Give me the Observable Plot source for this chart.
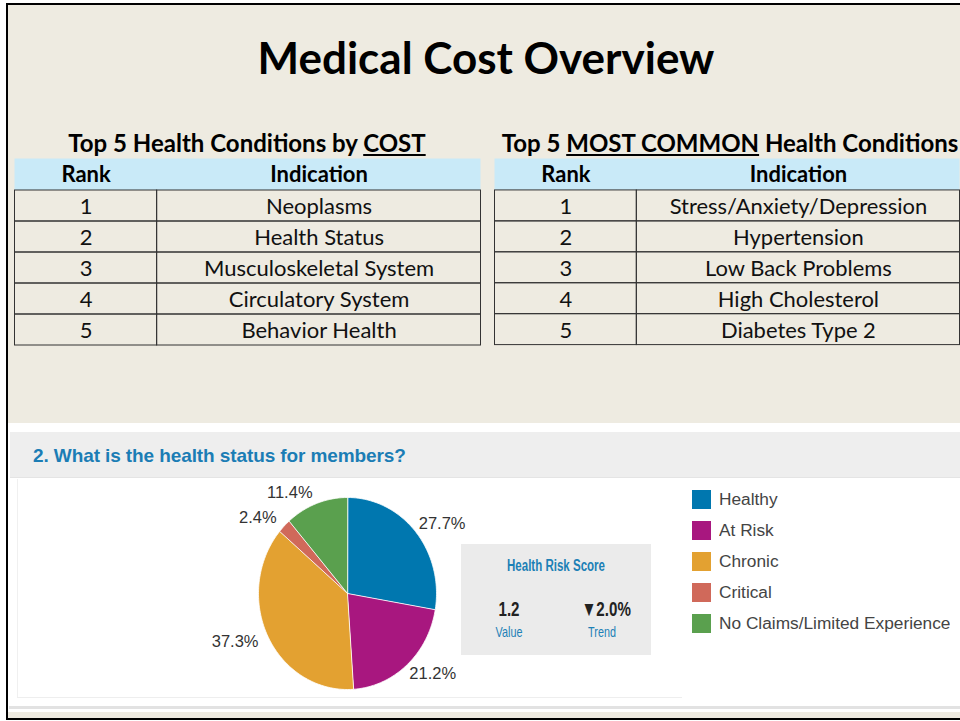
<!DOCTYPE html>
<html>
<head>
<meta charset="utf-8">
<script src="https://cdn.jsdelivr.net/npm/d3@7"></script>
<script src="https://cdn.jsdelivr.net/npm/@observablehq/plot@0.6"></script>
<style>
  html, body { margin: 0; padding: 0; }
  body { width: 960px; height: 721px; overflow: hidden; position: relative; background: #fff; }
  .abs { position: absolute; }
  #slide { left: 6px; top: 3px; width: 980px; height: 717px; box-sizing: border-box; background: #EEEBE1;
           border-left: 2px solid #000; border-top: 2px solid #000; border-bottom: 2px solid #000; }
  #title { left: 0; width: 972px; top: 31px; line-height: 40px; text-align: center; font: bold 44px Lato, "Open Sans", sans-serif; color: #000; }
  .ttitle { top: 128px; line-height: 24px; text-align: center; white-space: nowrap; font: bold 24px Lato, "Open Sans", sans-serif; color: #000; }
  #panel { left: 8px; top: 423px; width: 960px; height: 289px; background: #fff; }
  #phead { left: 10px; top: 432px; width: 960px; height: 45px; background: #EEEEEE; border-bottom: 1px solid #e4e4e4; }
  #ptitle { left: 33px; top: 445px; line-height: 20px; font: bold 19px "Liberation Sans", Arial, sans-serif; color: #1B7DB5; white-space: nowrap; letter-spacing: -0.1px; }
  #pframeL { left: 17px; top: 479px; width: 1px; height: 218px; background: #f0f0f0; }
  #pframeB { left: 17px; top: 697px; width: 665px; height: 1px; background: #eeeeee; }
  #pline { left: 9px; top: 706px; width: 960px; height: 3px; background: #e2e2e2; }
  #score { left: 461px; top: 544px; width: 190px; height: 111px; background: #EBEBEB; }
  .narrow { font-family: "Liberation Sans", Arial, sans-serif; white-space: nowrap; text-align: center; transform: scaleX(0.72); transform-origin: center; }
  .lg-swatch { height: 31px !important; margin: 0 !important; padding: 0 !important; }
  .lg-swatch svg { margin-right: 8px !important; }
</style>
</head>
<body>
<div id="slide" class="abs"></div>
<div id="title" class="abs">Medical Cost Overview</div>
<div class="abs ttitle" style="left:14px;width:466px;">Top 5 Health Conditions by <u>COST</u></div>
<div class="abs ttitle" style="left:497px;width:466px;">Top 5 <u>MOST COMMON</u> Health Conditions</div>
<div id="tableLeft" class="abs" style="left:14px;top:157px;"></div>
<div id="tableRight" class="abs" style="left:494px;top:157px;"></div>

<div id="panel" class="abs"></div>
<div id="phead" class="abs"></div>
<div id="ptitle" class="abs">2. What is the health status for members?</div>
<div id="pframeL" class="abs"></div>
<div id="pframeB" class="abs"></div>
<div id="pline" class="abs"></div>
<div id="pie" class="abs" style="left:200px;top:480px;"></div>
<div id="score" class="abs">
  <div class="abs narrow" style="left:0;width:190px;top:14px;font-size:16px;font-weight:bold;color:#1C80B6;line-height:16px;">Health Risk Score</div>
  <div class="abs narrow" style="left:18px;width:60px;top:55px;font-size:21px;font-weight:bold;color:#222;line-height:20px;">1.2</div>
  <div class="abs narrow" style="left:18px;width:60px;top:80px;font-size:15px;color:#1C80B6;line-height:16px;">Value</div>
  <div class="abs narrow" style="left:112px;width:60px;top:55px;font-size:21px;font-weight:bold;color:#222;line-height:20px;">▼2.0%</div>
  <div class="abs narrow" style="left:111px;width:60px;top:80px;font-size:15px;color:#1C80B6;line-height:16px;">Trend</div>
</div>
<div id="legend" class="abs" style="left:692px;top:484px;"></div>

<script>
// ---- Data ----
const tableHeaders = ["Rank", "Indication"];
const ranks = [1, 2, 3, 4, 5];
const costConditions = ["Neoplasms", "Health Status", "Musculoskeletal System", "Circulatory System", "Behavior Health"];
const commonConditions = ["Stress/Anxiety/Depression", "Hypertension", "Low Back Problems", "High Cholesterol", "Diabetes Type 2"];

const statusCategories = ["Healthy", "At Risk", "Chronic", "Critical", "No Claims/Limited Experience"];
const statusShares = [27.7, 21.2, 37.3, 2.4, 11.4];
const statusColors = ["#0077AF", "#A8177F", "#E3A131", "#D0695A", "#5AA04E"];

// ---- Tables ----
const rankColumnFraction = 0.305; // layout: share of table width for the Rank column
function drawTable(el, conditions) {
  const cols = [
    {name: tableHeaders[0], x1: 0, x2: rankColumnFraction},
    {name: tableHeaders[1], x1: rankColumnFraction, x2: 1}
  ];
  const cells = [];
  ranks.forEach((r, i) => {
    cells.push({col: cols[0], row: String(r), text: String(r)});
    cells.push({col: cols[1], row: String(r), text: conditions[i]});
  });
  const chart = Plot.plot({
    width: 467, height: 189,
    margin: 0,
    x: {domain: [0, 1], range: [0.5, 466.5], axis: null},
    y: {type: "band", domain: ["head", ...ranks.map(String)], range: [0.5, 188.5], padding: 0, axis: null},
    style: {fontFamily: "Lato, 'Open Sans', sans-serif", background: "transparent", overflow: "visible"},
    marks: [
      Plot.barX([0], {x1: 0, x2: 1, y: () => "head", fill: "#C9EAF8", insetTop: -0.5}),
      Plot.barX(cells, {x1: d => d.col.x1, x2: d => d.col.x2, y: "row", fill: "none", stroke: "#333", strokeWidth: 1}),
      Plot.text(cols, {x: d => (d.x1 + d.x2) / 2, y: () => "head", text: "name", fontSize: 22, fontWeight: "bold", fill: "#000"}),
      Plot.text(cells, {x: d => (d.col.x1 + d.col.x2) / 2, y: "row", text: "text", fontSize: 22, fill: "#111", dy: 1})
    ]
  });
  el.appendChild(chart);
}
drawTable(document.getElementById("tableLeft"), costConditions);
drawTable(document.getElementById("tableRight"), commonConditions);

// ---- Pie ----
const total = d3.sum(statusShares);
const slices = [];
let acc = 0;
statusCategories.forEach((name, i) => {
  const a0 = acc / total * 2 * Math.PI;
  acc += statusShares[i];
  const a1 = acc / total * 2 * Math.PI;
  slices.push({name, value: statusShares[i], a0, a1, mid: (a0 + a1) / 2});
});
const arcPoints = [];
for (const s of slices) {
  arcPoints.push({name: s.name, x: 0, y: 0});
  const n = Math.max(2, Math.ceil((s.a1 - s.a0) / (Math.PI / 180)));
  for (let k = 0; k <= n; k++) {
    const a = s.a0 + (s.a1 - s.a0) * k / n;
    arcPoints.push({name: s.name, x: Math.sin(a), y: Math.cos(a)});
  }
}
const labelR = 1.12;
const labels = slices.map(s => ({
  text: s.value.toFixed(1) + "%",
  x: Math.sin(s.mid) * labelR,
  y: Math.cos(s.mid) * labelR,
  right: Math.sin(s.mid) >= 0
}));
const pie = Plot.plot({
  width: 300, height: 220,
  x: {domain: [-1, 1], range: [58, 236], axis: null},
  y: {domain: [-1, 1], range: [209, 17], axis: null},
  color: {domain: statusCategories, range: statusColors},
  style: {fontFamily: "'Liberation Sans', Arial, sans-serif", background: "transparent", overflow: "visible"},
  marks: [
    Plot.line(arcPoints, {x: "x", y: "y", z: "name", fill: "name", stroke: "#fff", strokeWidth: 0.8, curve: "linear-closed"}),
    Plot.text(labels.filter(d => d.right), {x: "x", y: "y", text: "text", textAnchor: "start", fontSize: 16.5, fill: "#333", dx: -5}),
    Plot.text(labels.filter(d => !d.right), {x: "x", y: "y", text: "text", textAnchor: "end", fontSize: 16.5, fill: "#333"})
  ]
});
document.getElementById("pie").appendChild(pie);

// ---- Legend ----
const legend = Plot.legend({
  color: {domain: statusCategories, range: statusColors, type: "categorical"},
  columns: 1,
  swatchSize: 19,
  className: "lg",
  style: {fontFamily: "'Liberation Sans', Arial, sans-serif", fontSize: "17.3px", color: "#444", background: "transparent"}
});
document.getElementById("legend").appendChild(legend);
</script>
</body>
</html>
